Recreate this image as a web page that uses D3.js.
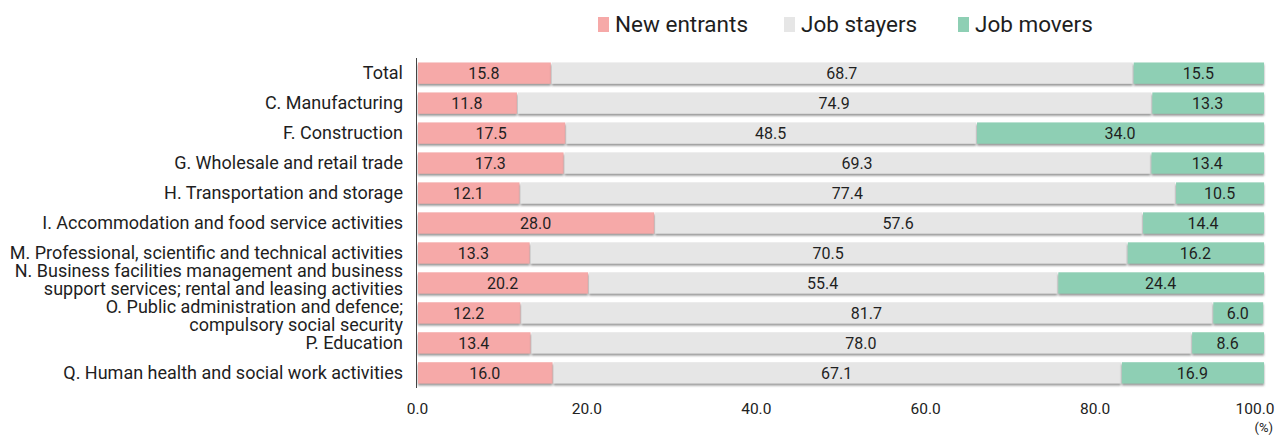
<!DOCTYPE html>
<html>
<head>
<meta charset="utf-8">
<script src="https://cdn.jsdelivr.net/npm/d3@7"></script>
<style>
  html, body { margin: 0; padding: 0; background: #fff; }
  svg { display: block; }
</style>
</head>
<body>
<svg id="chart" width="1276" height="435"></svg>
<script>
// Industry categories (each entry is a list of label lines)
const categories = [
  ["Total"],
  ["C. Manufacturing"],
  ["F. Construction"],
  ["G. Wholesale and retail trade"],
  ["H. Transportation and storage"],
  ["I. Accommodation and food service activities"],
  ["M. Professional, scientific and technical activities"],
  ["N. Business facilities management and business", "support services; rental and leasing activities"],
  ["O. Public administration and defence;", "compulsory social security"],
  ["P. Education"],
  ["Q. Human health and social work activities"]
];

const seriesNames = ["New entrants", "Job stayers", "Job movers"];
const newEntrants = [15.8, 11.8, 17.5, 17.3, 12.1, 28.0, 13.3, 20.2, 12.2, 13.4, 16.0];
const jobStayers  = [68.7, 74.9, 48.5, 69.3, 77.4, 57.6, 70.5, 55.4, 81.7, 78.0, 67.1];
const jobMovers   = [15.5, 13.3, 34.0, 13.4, 10.5, 14.4, 16.2, 24.4, 6.0, 8.6, 16.9];
const tickValues = [0, 20, 40, 60, 80, 100];

const colors = ["#f6a9a8", "#e6e6e6", "#8ecfb4"];

const svg = d3.select("#chart");
const plotLeft = 417, plotRight = 1264, plotTop = 58, plotBottom = 388;

const x = d3.scaleLinear().domain([0, 100]).range([plotLeft, plotRight]);
const y = d3.scaleBand()
  .domain(d3.range(categories.length))
  .range([plotTop, plotBottom])
  .paddingInner(0.29)
  .paddingOuter(0.15);

// soft shadow under every bar segment
const defs = svg.append("defs");
const f = defs.append("filter").attr("id", "shadow")
  .attr("x", "-5%").attr("y", "-20%").attr("width", "110%").attr("height", "160%");
f.append("feDropShadow").attr("dx", 0).attr("dy", 2).attr("stdDeviation", 0.8)
  .attr("flood-color", "#6f6f6f").attr("flood-opacity", 0.75);

const rows = categories.map((c, i) => ({
  i, label: c, values: [newEntrants[i], jobStayers[i], jobMovers[i]]
}));

const stackData = rows.map(r => ({ i: r.i, a: r.values[0], b: r.values[1], c: r.values[2] }));
const stack = d3.stack().keys(["a", "b", "c"])(stackData);

const layer = svg.append("g").selectAll("g").data(stack).join("g")
  .attr("fill", (d, k) => colors[k]);

layer.selectAll("rect").data(d => d).join("rect")
  .attr("x", d => x(d[0]) + 1)
  .attr("width", d => Math.max(0, x(d[1]) - x(d[0]) - 1))
  .attr("y", d => y(d.data.i))
  .attr("height", y.bandwidth())
  .attr("filter", "url(#shadow)");

// value labels centred on each segment
const valueText = svg.append("g").selectAll("g").data(stack).join("g");
valueText.selectAll("text").data(d => d).join("text")
  .attr("x", d => (x(d[0]) + x(d[1])) / 2)
  .attr("y", d => y(d.data.i) + y.bandwidth() / 2)
  .attr("dy", "0.36em")
  .attr("text-anchor", "middle")
  .attr("font-family", "Roboto, sans-serif")
  .attr("font-size", 16)
  .attr("fill", "#1f1f1f")
  .text(d => (d[1] - d[0]).toFixed(1));

// category labels; two-line labels are nudged apart so they don't collide
const twoLineShift = { 7: -3, 8: 3 };
const labels = svg.append("g").selectAll("text").data(rows).join("text")
  .attr("text-anchor", "end")
  .attr("font-family", "Roboto, sans-serif")
  .attr("font-size", 18)
  .attr("fill", "#1e1e1e");
labels.each(function(r) {
  const cy = y(r.i) + y.bandwidth() / 2 + (twoLineShift[r.i] || 0);
  const n = r.label.length;
  d3.select(this).selectAll("tspan").data(r.label).join("tspan")
    .attr("x", 403)
    .attr("y", (d, k) => cy + (k - (n - 1) / 2) * 18)
    .attr("dy", "0.35em")
    .text(d => d);
});

// vertical axis line
svg.append("line")
  .attr("x1", plotLeft - 0.5).attr("x2", plotLeft - 0.5)
  .attr("y1", plotTop).attr("y2", plotBottom)
  .attr("stroke", "#444").attr("stroke-width", 1);

// x axis tick labels
const xAxis = d3.axisBottom(x).tickValues(tickValues).tickSize(0).tickPadding(0)
  .tickFormat(d => d.toFixed(1));
const gx = svg.append("g").attr("transform", "translate(0,403)").call(xAxis);
gx.select(".domain").remove();
gx.selectAll("text")
  .attr("font-family", "Roboto, sans-serif")
  .attr("font-size", 15.5)
  .attr("fill", "#222");
// keep the last label inside the frame
gx.selectAll(".tick").filter(d => d === 100).select("text")
  .attr("text-anchor", "end").attr("x", 10);

svg.append("text")
  .attr("x", 1273).attr("y", 432)
  .attr("text-anchor", "end")
  .attr("font-family", "Roboto, sans-serif")
  .attr("font-size", 13)
  .attr("fill", "#222")
  .text("(%)");

// legend
const legendX = [598, 784, 958];
const lg = svg.append("g").selectAll("g").data(seriesNames).join("g")
  .attr("transform", (d, k) => `translate(${legendX[k]},24)`);
lg.append("rect").attr("x", 0).attr("y", -7).attr("width", 11).attr("height", 15)
  .attr("fill", (d, k) => colors[k]);
lg.append("text").attr("x", 17).attr("y", 0).attr("dy", "0.35em")
  .attr("font-family", "Roboto, sans-serif")
  .attr("font-size", 22.5)
  .attr("fill", "#1e1e1e")
  .text(d => d);
</script>
</body>
</html>
